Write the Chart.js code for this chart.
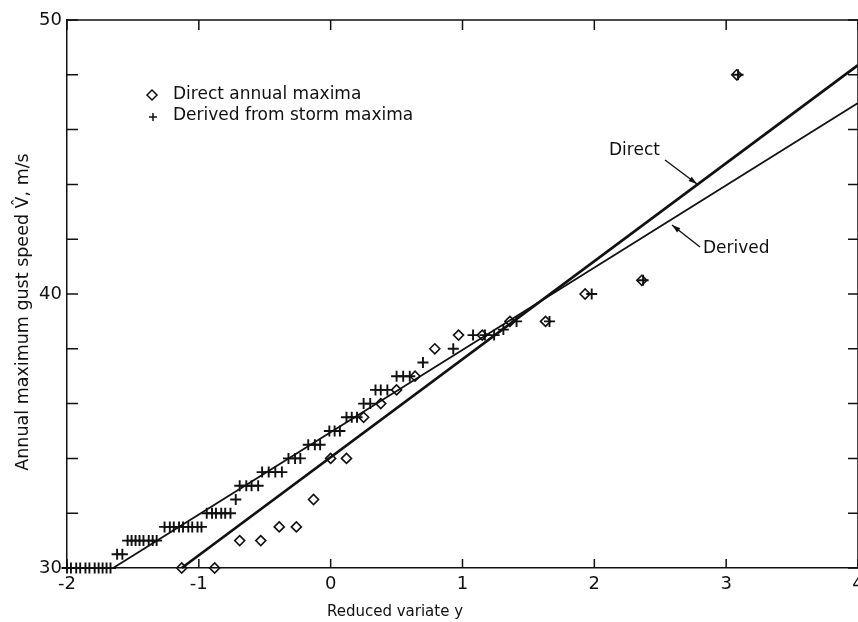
<!DOCTYPE html>
<html>
<head>
<meta charset="utf-8">
<script src="https://cdn.jsdelivr.net/npm/chart.js@4.4.1/dist/chart.umd.min.js"></script>
<style>
  html, body { margin: 0; padding: 0; background: #fff; overflow: hidden; }
  #wrap { position: relative; width: 858px; height: 622px; overflow: hidden; }
</style>
</head>
<body>
<div id="wrap"><canvas id="gust" width="900" height="622"></canvas></div>
<script>
const INK = "#111";
const FONT = "'DejaVu Sans', 'Liberation Sans', sans-serif";

// direct annual maxima (diamonds): reduced variate y, gust speed V (m/s)
const directY = [-1.13, -0.88, -0.69, -0.53, -0.39, -0.26, -0.13, 0.0, 0.12, 0.25, 0.38,
  0.5, 0.64, 0.79, 0.97, 1.15, 1.36, 1.63, 1.93, 2.36, 3.08];
const directV = [30, 30, 31, 31, 31.5, 31.5, 32.5, 34, 34, 35.5, 36,
  36.5, 37, 38, 38.5, 38.5, 39, 39, 40, 40.5, 48];

// derived from storm maxima (plus signs)
const derivedY = [
  -2.0, -1.97, -1.93, -1.9, -1.86, -1.83, -1.79, -1.76, -1.73, -1.7, -1.67,
  -1.62, -1.58,
  -1.54, -1.51, -1.48, -1.45, -1.42, -1.38, -1.35, -1.32,
  -1.26, -1.22, -1.19, -1.15, -1.12, -1.08, -1.05, -1.01, -0.98,
  -0.94, -0.9, -0.87, -0.83, -0.8, -0.76,
  -0.72,
  -0.69, -0.64, -0.6, -0.55,
  -0.52, -0.47, -0.42, -0.37,
  -0.32, -0.27, -0.23,
  -0.17, -0.12, -0.08,
  -0.01, 0.03, 0.07,
  0.12, 0.16, 0.2,
  0.25, 0.3,
  0.34, 0.38, 0.43,
  0.5, 0.55, 0.6,
  0.7, 0.93,
  1.08, 1.17, 1.24, 1.31,
  1.41, 1.66, 1.98, 2.37, 3.09];
const derivedV = [
  30, 30, 30, 30, 30, 30, 30, 30, 30, 30, 30,
  30.5, 30.5,
  31, 31, 31, 31, 31, 31, 31, 31,
  31.5, 31.5, 31.5, 31.5, 31.5, 31.5, 31.5, 31.5, 31.5,
  32, 32, 32, 32, 32, 32,
  32.5,
  33, 33, 33, 33,
  33.5, 33.5, 33.5, 33.5,
  34, 34, 34,
  34.5, 34.5, 34.5,
  35, 35, 35,
  35.5, 35.5, 35.5,
  36, 36,
  36.5, 36.5, 36.5,
  37, 37, 37,
  37.5, 38,
  38.5, 38.5, 38.5, 38.7,
  39, 39, 40, 40.5, 48];

// fitted lines
const directFitY = [-1.13, 4];
const directFitV = [30, 48.35];
const derivedFitY = [-1.65, 4];
const derivedFitV = [30, 46.97];

const xTickValues = [-2, -1, 0, 1, 2, 3, 4];
const yLabelValues = [30, 40, 50];
const yTickValues = [30, 32, 34, 36, 38, 40, 42, 44, 46, 48, 50];

const pts = (xs, ys) => xs.map((x, i) => ({ x: x, y: ys[i] }));

function arrow(ctx, x1, y1, x2, y2) {
  ctx.beginPath();
  ctx.moveTo(x1, y1);
  ctx.lineTo(x2, y2);
  ctx.stroke();
  const a = Math.atan2(y2 - y1, x2 - x1);
  ctx.beginPath();
  ctx.moveTo(x2, y2);
  ctx.lineTo(x2 - 9 * Math.cos(a - 0.3), y2 - 9 * Math.sin(a - 0.3));
  ctx.lineTo(x2 - 9 * Math.cos(a + 0.3), y2 - 9 * Math.sin(a + 0.3));
  ctx.closePath();
  ctx.fill();
}

const decorations = {
  id: "decorations",
  afterDraw(chart) {
    const { ctx, chartArea: area, scales } = chart;
    const xs = scales.x, ys = scales.y;
    ctx.save();
    ctx.strokeStyle = INK;
    ctx.fillStyle = INK;
    ctx.lineWidth = 1.5;

    // top and right frame
    ctx.beginPath();
    ctx.moveTo(area.left, area.top);
    ctx.lineTo(area.right, area.top);
    ctx.lineTo(area.right, area.bottom);
    ctx.stroke();

    // inward tick marks
    ctx.beginPath();
    yTickValues.forEach((v) => {
      const py = ys.getPixelForValue(v);
      ctx.moveTo(area.left, py); ctx.lineTo(area.left + 11, py);
      ctx.moveTo(area.right, py); ctx.lineTo(area.right - 10, py);
    });
    xTickValues.forEach((v) => {
      const px = xs.getPixelForValue(v);
      ctx.moveTo(px, area.bottom); ctx.lineTo(px, area.bottom - 9);
      ctx.moveTo(px, area.top); ctx.lineTo(px, area.top + 10);
    });
    ctx.stroke();

    // legend
    ctx.lineWidth = 1.5;
    ctx.beginPath();
    ctx.moveTo(152, 90); ctx.lineTo(157, 95); ctx.lineTo(152, 100); ctx.lineTo(147, 95);
    ctx.closePath();
    ctx.stroke();
    ctx.beginPath();
    ctx.moveTo(149, 117); ctx.lineTo(157, 117);
    ctx.moveTo(153, 113); ctx.lineTo(153, 121);
    ctx.stroke();
    ctx.font = "17px " + FONT;
    ctx.textBaseline = "middle";
    ctx.textAlign = "left";
    ctx.fillText("Direct annual maxima", 173, 95);
    ctx.fillText("Derived from storm maxima", 173, 116);

    // line labels
    ctx.fillText("Direct", 609, 151);
    ctx.fillText("Derived", 703, 249);
    ctx.lineWidth = 1.4;
    arrow(ctx, 665, 160, 697, 184);
    arrow(ctx, 700, 247, 672, 225);

    // axis titles
    ctx.textAlign = "center";
    ctx.font = "15px " + FONT;
    ctx.fillText("Reduced variate y", 395, 612);
    ctx.save();
    ctx.translate(23, 312);
    ctx.rotate(-Math.PI / 2);
    ctx.font = "17.5px " + FONT;
    ctx.fillText("Annual maximum gust speed V\u0302, m/s", 0, 0);
    ctx.restore();
    ctx.restore();
  },
};

new Chart(document.getElementById("gust"), {
  type: "scatter",
  data: {
    datasets: [
      {
        label: "Direct",
        data: pts(directFitY, directFitV),
        showLine: true,
        borderColor: INK,
        borderWidth: 2.8,
        pointRadius: 0,
        clip: false,
      },
      {
        label: "Derived",
        data: pts(derivedFitY, derivedFitV),
        showLine: true,
        borderColor: INK,
        borderWidth: 1.8,
        pointRadius: 0,
        clip: false,
      },
      {
        label: "Direct annual maxima",
        data: pts(directY, directV),
        pointStyle: "rectRot",
        pointRadius: 5,
        borderWidth: 1.6,
        borderColor: INK,
        backgroundColor: "rgba(255,255,255,0)",
        clip: false,
      },
      {
        label: "Derived from storm maxima",
        data: pts(derivedY, derivedV),
        pointStyle: "cross",
        pointRadius: 5.5,
        borderWidth: 1.9,
        borderColor: INK,
        clip: false,
      },
    ],
  },
  options: {
    responsive: false,
    animation: false,
    events: [],
    layout: { padding: { top: 20, right: 42, left: 0, bottom: 0 } },
    plugins: { legend: { display: false }, tooltip: { enabled: false } },
    scales: {
      x: {
        type: "linear",
        min: -2,
        max: 4,
        afterFit: (s) => { s.height = 54; },
        afterBuildTicks: (s) => { s.ticks = xTickValues.map((v) => ({ value: v })); },
        ticks: { color: INK, font: { family: FONT, size: 18 }, padding: 6, maxRotation: 0, autoSkip: false },
        grid: { display: false, drawTicks: false },
        border: { display: true, color: INK, width: 1.5 },
      },
      y: {
        type: "linear",
        min: 30,
        max: 50,
        afterFit: (s) => { s.width = 67; },
        afterBuildTicks: (s) => { s.ticks = yLabelValues.map((v) => ({ value: v })); },
        ticks: { color: INK, font: { family: FONT, size: 18 }, padding: 5, autoSkip: false },
        grid: { display: false, drawTicks: false },
        border: { display: true, color: INK, width: 1.5 },
      },
    },
  },
  plugins: [decorations],
});
</script>
</body>
</html>
